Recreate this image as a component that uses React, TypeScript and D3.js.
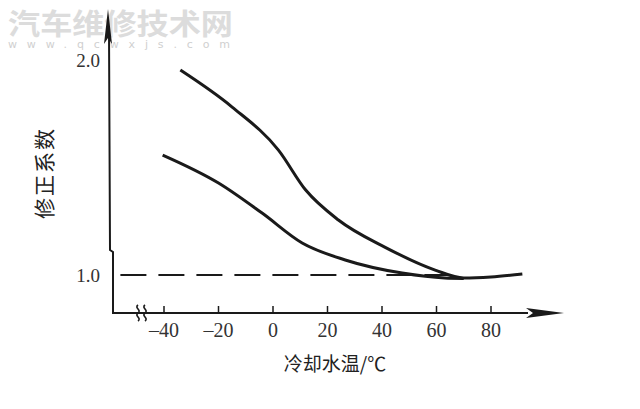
import React from "react";
import * as d3 from "d3";

const xTicks = [-40, -20, 0, 20, 40, 60, 80];
const xTickLabels = ["–40", "–20", "0", "20", "40", "60", "80"];
const yTicks = [1.0, 2.0];
const yTickLabels = ["1.0", "2.0"];

const upperTemps = [-34, -15, 2, 12, 24, 41, 59.5, 70, 80, 91.5];
const upperVals = [1.953, 1.781, 1.581, 1.395, 1.256, 1.13, 1.023, 0.986, 0.991, 1.005];
const lowerTemps = [-40.5, -20, -4, 10.7, 26.5, 47.4, 63, 70];
const lowerVals = [1.558, 1.428, 1.288, 1.149, 1.07, 1.009, 0.986, 0.984];
const refLine = [
  [-56, 1.0],
  [66, 1.0],
];

const xLabel = "冷却水温/℃";
const yLabel = "修正系数";

export default function App() {
  const W = 640;
  const H = 409;
  const x = d3.scaleLinear().domain([-40, 80]).range([164, 491]);
  const y = d3.scaleLinear().domain([1, 2]).range([275, 60]);
  const axisY = 313;

  const line = d3
    .line<[number, number]>()
    .x((d) => x(d[0]))
    .y((d) => y(d[1]))
    .curve(d3.curveMonotoneX);

  const upper = upperTemps.map((t, i) => [t, upperVals[i]] as [number, number]);
  const lower = lowerTemps.map((t, i) => [t, lowerVals[i]] as [number, number]);
  const straight = d3
    .line<number[]>()
    .x((d) => x(d[0]))
    .y((d) => y(d[1]));

  const serif = "'Liberation Serif', 'DejaVu Serif', serif";
  const cjk = "'Noto Sans CJK SC', sans-serif";
  const ink = "#1a1a1a";

  return (
    <svg
      width={W}
      height={H}
      style={{ position: "absolute", left: 0, top: 0, background: "#fff" }}
    >
      {/* watermark */}
      <text
        x={8}
        y={35}
        fontFamily={cjk}
        fontWeight={700}
        fontSize={29}
        fill="#dcdcdc"
        textLength={225}
        lengthAdjust="spacingAndGlyphs"
      >
        汽车维修技术网
      </text>
      <text
        x={8}
        y={48}
        fontFamily="'DejaVu Sans', sans-serif"
        fontSize={11}
        fill="#d0d0d0"
        textLength={222}
        lengthAdjust="spacing"
      >
        www.qcwxjs.com
      </text>

      {/* axes */}
      <path
        d={`M109,30 L110,250 L113,252 L113,${axisY} L528,${axisY}`}
        fill="none"
        stroke={ink}
        strokeWidth={2}
      />
      <path d="M108,9 L104,44 L108,38 L112,44 Z" fill={ink} />
      <path
        d={`M564,${axisY} L526,${axisY - 5} L533,${axisY} L526,${axisY + 5} Z`}
        fill={ink}
      />
      {/* axis break */}
      <path
        d={`M138,305 c-4,3 4,5 0,8 c-4,3 4,5 0,8 M145,305 c-4,3 4,5 0,8 c-4,3 4,5 0,8`}
        fill="none"
        stroke={ink}
        strokeWidth={1.6}
      />

      {/* x ticks */}
      {xTicks.map((t, i) => (
        <g key={t}>
          <line
            x1={x(t)}
            x2={x(t)}
            y1={axisY}
            y2={axisY - 7}
            stroke={ink}
            strokeWidth={1.5}
          />
          <text
            x={x(t)}
            y={337}
            textAnchor="middle"
            fontFamily={serif}
            fontSize={20}
            fill="#333"
          >
            {xTickLabels[i]}
          </text>
        </g>
      ))}

      {/* y tick labels */}
      {yTicks.map((v, i) => (
        <text
          key={v}
          x={100}
          y={y(v) + 7}
          textAnchor="end"
          fontFamily={serif}
          fontSize={19}
          fill="#333"
        >
          {yTickLabels[i]}
        </text>
      ))}

      {/* dashed reference */}
      <path
        d={straight(refLine) || ""}
        fill="none"
        stroke={ink}
        strokeWidth={2}
        strokeDasharray="26 12"
      />

      {/* curves */}
      <path d={line(upper) || ""} fill="none" stroke={ink} strokeWidth={3} />
      <path d={line(lower) || ""} fill="none" stroke={ink} strokeWidth={3} />

      {/* axis titles */}
      <text
        x={335}
        y={371}
        textAnchor="middle"
        fontFamily={cjk}
        fontSize={19}
        fill="#222"
      >
        {xLabel}
      </text>
      <text
        transform="translate(52,173) rotate(-90)"
        textAnchor="middle"
        fontFamily={cjk}
        fontSize={21}
        letterSpacing={2}
        fill="#222"
      >
        {yLabel}
      </text>
    </svg>
  );
}
